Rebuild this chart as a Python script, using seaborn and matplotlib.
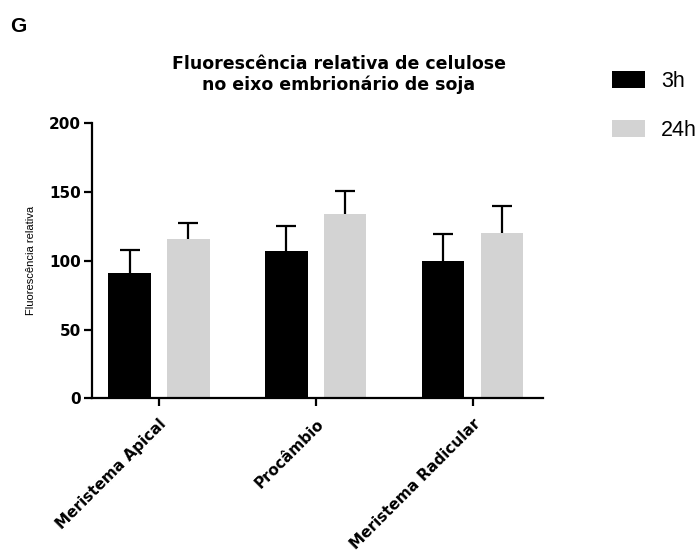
import matplotlib
matplotlib.use("Agg")
import matplotlib.pyplot as plt
import seaborn as sns
import pandas as pd
import numpy as np

categories = ["Meristema Apical", "Procâmbio", "Meristema Radicular"]
groups = ["3h", "24h"]
mean_3h = [91, 107, 100]
err_3h = [17, 18, 19.5]
mean_24h = [116, 134, 120.5]
err_24h = [11.5, 16.5, 19.5]
yticks = [0, 50, 100, 150, 200]

sns.set_style("white")
plt.rcParams['font.family'] = ['Liberation Sans', 'DejaVu Sans']
plt.rcParams.update({
    "text.color": "black", "axes.labelcolor": "black", "xtick.color": "black",
    "ytick.color": "black", "axes.edgecolor": "black",
})
BOLD = ['DejaVu Sans']

df = pd.DataFrame({
    "region": categories * 2,
    "group": ["3h"] * 3 + ["24h"] * 3,
    "value": mean_3h + mean_24h,
})

fig = plt.figure(figsize=(7, 5.6), dpi=100)
ax = fig.add_axes([0.131, 0.2888, 0.644, 0.491])

palette = {"3h": "#000000", "24h": "#d3d3d3"}
sns.barplot(data=df, x="region", y="value", hue="group", hue_order=groups,
            order=categories, palette=palette, width=0.75, gap=0.28,
            errorbar=None, ax=ax, edgecolor="none", linewidth=0, saturation=1)

errs = {"3h": err_3h, "24h": err_24h}
means = {"3h": mean_3h, "24h": mean_24h}
for cont, g in zip(ax.containers, groups):
    xs = [p.get_x() + p.get_width() / 2 for p in cont.patches]
    _, caps, _ = ax.errorbar(xs, means[g], yerr=[np.zeros(len(xs)), errs[g]],
                             fmt="none", ecolor="black", elinewidth=1.6,
                             capsize=7.2, capthick=1.6, zorder=1)
    if len(caps) == 2:
        caps[0].remove()

ax.set_ylim(0, 200)
ax.set_xlim(-0.429, 2.446)
ax.set_yticks(yticks)
ax.set_yticklabels([str(t) for t in yticks], fontsize=11, fontweight="bold",
                   family=BOLD, color="black")
ax.set_xlabel("")
ax.set_ylabel("Fluorescência relativa", fontsize=8, labelpad=9, color="black")
for s in ["top", "right"]:
    ax.spines[s].set_visible(False)
for s in ["left", "bottom"]:
    ax.spines[s].set_linewidth(1.6)
    ax.spines[s].set_color("black")
ax.tick_params(axis="both", direction="out", length=6, width=1.6, color="black",
               labelcolor="black", bottom=True, left=True)
ax.tick_params(axis="x", length=6, pad=7)
ax.tick_params(axis="y", pad=2)
ax.set_xticks(range(len(categories)))
ax.set_xticklabels(categories, rotation=45, ha="right", rotation_mode="anchor",
                   fontsize=11, fontweight="bold", family=BOLD, color="black")

handles, labels = ax.get_legend_handles_labels()
if ax.legend_:
    ax.legend_.remove()
leg = fig.legend(handles, labels, loc="upper left", bbox_to_anchor=(0.874, 0.874),
                 frameon=False, fontsize=15.5, handlelength=1.53, handleheight=0.87,
                 handletextpad=0.75, labelspacing=1.3, borderaxespad=0, borderpad=0)
for t in leg.get_texts():
    t.set_color("black")

fig.text(0.484, 1 - 55 / 560, "Fluorescência relativa de celulose\nno eixo embrionário de soja",
         ha="center", va="top", fontsize=12.5, fontweight="bold", linespacing=1.2,
         family=BOLD, color="black")
fig.text(10 / 700, 1 - 26 / 560, "G", ha="left", va="center", fontsize=15,
         fontweight="bold", color="black")

fig.savefig("out.png", dpi=100)
